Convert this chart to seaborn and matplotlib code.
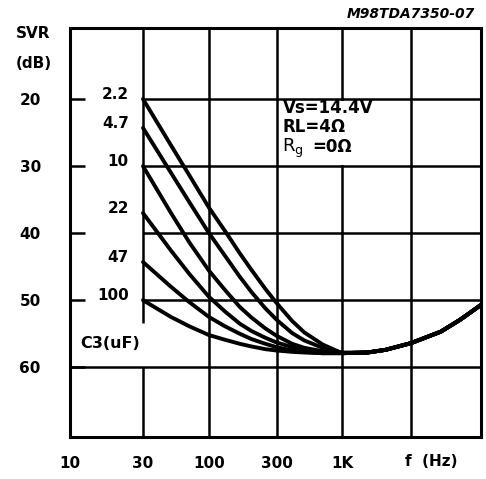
import numpy as np
import pandas as pd
import matplotlib
matplotlib.use("Agg")
import matplotlib.pyplot as plt
import seaborn as sns
from matplotlib.ticker import NullLocator
from matplotlib.patches import Rectangle

# ---------------- data ----------------
c3_labels = ["2.2", "4.7", "10", "22", "47", "100"]
freq_low = [30, 50, 70, 100, 130, 165, 200, 250, 300, 400, 500, 700, 1000]
svr_c3_2u2 = [20.0, 26.9, 31.4, 36.2, 39.7, 43.0, 45.5, 48.3, 50.4, 53.1, 54.8, 56.6, 57.9]
svr_c3_4u7 = [24.3, 31.0, 35.4, 40.0, 43.4, 46.5, 48.8, 51.2, 52.9, 54.9, 56.0, 57.1, 57.8]
svr_c3_10u = [30.0, 37.0, 41.4, 45.6, 48.5, 51.0, 52.6, 54.2, 55.3, 56.5, 57.1, 57.6, 57.9]
svr_c3_22u = [37.0, 42.6, 46.1, 49.5, 51.7, 53.5, 54.6, 55.6, 56.3, 57.0, 57.4, 57.7, 57.9]
svr_c3_47u = [44.3, 48.0, 50.3, 52.5, 53.9, 55.0, 55.8, 56.5, 57.0, 57.5, 57.7, 57.9, 57.9]
svr_c3_100u = [50.0, 52.5, 53.9, 55.2, 55.9, 56.5, 56.9, 57.3, 57.5, 57.7, 57.8, 57.9, 57.9]
freq_high = [1500, 2000, 3000, 5000, 7000, 10000]
svr_high = [57.8, 57.4, 56.4, 54.7, 52.9, 50.7]

x_tick_values = [10, 30, 100, 300, 1000]
x_tick_labels = ["10", "30", "100", "300", "1K"]
y_tick_values = [20, 30, 40, 50, 60]
y_tick_labels = ["20", "30", "40", "50", "60"]

low_series = [svr_c3_2u2, svr_c3_4u7, svr_c3_10u, svr_c3_22u, svr_c3_47u, svr_c3_100u]
rows = []
for lab, vals in zip(c3_labels, low_series):
    for f, v in zip(freq_low + freq_high, vals + svr_high):
        rows.append({"freq": f, "svr": v, "c3": lab})
df = pd.DataFrame(rows)

# ---------------- styling ----------------
sns.set_theme(style="white")
plt.rcParams["font.family"] = ["DejaVu Sans"]
plt.rcParams["font.weight"] = "bold"
plt.rcParams["text.color"] = "black"
plt.rcParams["axes.labelcolor"] = "black"
plt.rcParams["xtick.color"] = "black"
plt.rcParams["ytick.color"] = "black"

W, H = 486, 479
fig = plt.figure(figsize=(W / 100, H / 100), dpi=100)
ax = fig.add_axes([70 / W, 1 - 437 / H, 411 / W, 409 / H])

def px(x, y):
    return x / W, 1 - y / H

sns.lineplot(data=df, x="freq", y="svr", units="c3", estimator=None,
             color="black", lw=2.8, sort=False, ax=ax, zorder=3, legend=False)

# frequency axis as drawn in the reference (log-like grid spacing)
LOG_POS = np.log10([10, 30, 100, 300, 1000, 3000, 10000])
PIX_POS = np.array([0, 73, 139, 206.5, 272, 341, 411], dtype=float)

def fwd(x):
    x = np.asarray(x, dtype=float)
    return np.interp(np.log10(np.clip(x, 1e-9, None)), LOG_POS, PIX_POS)

def inv(p):
    p = np.asarray(p, dtype=float)
    return 10 ** np.interp(p, PIX_POS, LOG_POS)

ax.set_xscale("function", functions=(fwd, inv))
ax.set_xlim(10, 10000)
ax.set_ylim(70.4, 9.4)

# grid as drawn
gkw = dict(color="black", lw=1.8, zorder=1)
ax.hlines([20, 30, 40, 50], 30, 10000, **gkw)
ax.hlines([60], 10, 10000, **gkw)
for f in [100, 300, 1000, 3000]:
    ax.axvline(f, **gkw)
ax.vlines(30, 9.4, 53.4, **gkw)
ax.vlines(30, 60, 70.4, **gkw)

for s in ax.spines.values():
    s.set_color("black")
    s.set_linewidth(2.2)

ax.set_xticks(x_tick_values)
ax.set_xticklabels(x_tick_labels)
ax.xaxis.set_minor_locator(NullLocator())
ax.set_yticks(y_tick_values)
ax.set_yticklabels(y_tick_labels)
ax.tick_params(axis="x", bottom=False, length=0, pad=14, labelsize=11, colors="black")
ax.tick_params(axis="y", left=True, direction="in", length=11, width=1.8, pad=21,
               labelsize=11, colors="black")
for t in ax.get_xticklabels() + ax.get_yticklabels():
    t.set_fontweight("bold")
ax.set_xlabel("")
ax.set_ylabel("")

# curve labels (C3 values)
start_vals = [s[0] for s in low_series]
trans = matplotlib.transforms.blended_transform_factory(ax.transAxes, ax.transData)
for lab, v in zip(c3_labels, start_vals):
    ax.text(0.143, v - 0.7, lab, transform=trans, ha="right", va="center",
            fontsize=11, fontweight="bold", color="black")

fig.text(*px(80, 343), "C3(uF)", ha="left", va="center", fontsize=11.5,
         fontweight="bold", color="black")

# axis titles
fig.text(*px(33, 33), "SVR", ha="center", va="center", fontsize=11, fontweight="bold")
fig.text(*px(34, 63), "(dB)", ha="center", va="center", fontsize=11, fontweight="bold")
fig.text(*px(405, 462), "f  (Hz)", ha="left", va="center", fontsize=11, fontweight="bold")

# conditions block (white backing over the grid cell)
ax.add_patch(Rectangle(px(279, 165), 118 / W, 64 / H, transform=fig.transFigure,
                       facecolor="white", edgecolor="none", zorder=2, clip_on=False))
bb = dict(facecolor="white", edgecolor="none", pad=0.6)
fig.text(*px(283, 108), "Vs=14.4V", ha="left", va="center", fontsize=12,
         fontweight="bold")
fig.text(*px(283, 127), "RL=4Ω", ha="left", va="center", fontsize=12,
         fontweight="bold")
fig.text(*px(282, 148), r"R$_\mathregular{g}$", ha="left", va="center", fontsize=13,
         fontweight="normal", bbox=bb)
fig.text(*px(312, 147), "=0Ω", ha="left", va="center", fontsize=12,
         fontweight="bold")

# figure code
fig.text(*px(475, 14), "M98TDA7350-07", ha="right", va="center", fontsize=10,
         fontweight="bold", style="italic")

fig.savefig("out.png", dpi=100, facecolor="white")
